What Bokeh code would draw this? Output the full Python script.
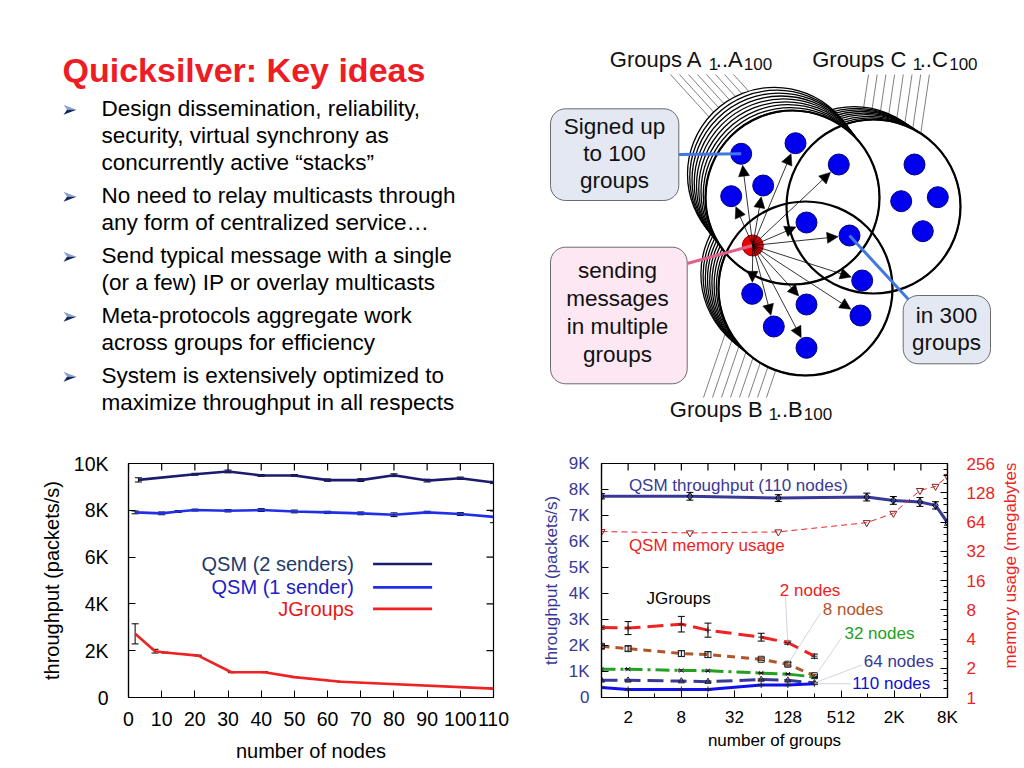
import math
from bokeh.plotting import figure
from bokeh.layouts import column, row
from bokeh.models import (Range1d, LogAxis, LogScale, FixedTicker, Whisker,
                          TeeHead, ColumnDataSource, Label, Arrow, NormalHead)
from bokeh.core.properties import value
from bokeh.embed import file_html
from bokeh.resources import INLINE

FONT = "Liberation Sans"

# ---------------- slide text ----------------
TITLE = "Quicksilver: Key ideas"
BULLETS = [
    ["Design dissemination, reliability,", "security, virtual synchrony as",
     "concurrently active \u201cstacks\u201d"],
    ["No need to relay multicasts through", "any form of centralized service\u2026"],
    ["Send typical message with a single", "(or a few) IP or overlay multicasts"],
    ["Meta-protocols aggregate work", "across groups for efficiency"],
    ["System is extensively optimized  to", "maximize throughput in all respects"],
]
BOX_SIGNED = ["Signed up", "to 100", "groups"]
BOX_SENDING = ["sending", "messages", "in multiple", "groups"]
BOX_300 = ["in 300", "groups"]

# ---------------- left chart data (throughput vs nodes) ----------------
QSM2_NODES = [3, 20, 30, 40, 50, 60, 70, 80, 90, 100, 110]
QSM2_TPUT = [9300, 9540, 9660, 9490, 9490, 9290, 9290, 9500, 9270, 9370, 9190]
QSM2_ERR = [90, 40, 60, 40, 40, 50, 60, 60, 60, 50, 50]
QSM1_NODES = [2, 10, 15, 20, 30, 40, 50, 60, 70, 80, 90, 100, 110]
QSM1_TPUT = [7910, 7870, 7950, 8010, 7980, 8010, 7950, 7910, 7870, 7810, 7910, 7840, 7720]
QSM1_ERR = [60, 60, 40, 40, 50, 60, 60, 50, 60, 80, 50, 60, 250]
JG_NODES = [2, 8, 11, 21, 31, 41, 50, 64, 110]
JG_TPUT = [2720, 1980, 1920, 1790, 1080, 1080, 870, 670, 380]
JG_ERR = [430, 80, 20, 20, 20, 20, 20, 20, 20]
LEFT_X_TICKS = [0, 10, 20, 30, 40, 50, 60, 70, 80, 90, 100, 110]
LEFT_Y_TICKS = [0, 2000, 4000, 6000, 8000, 10000]
LEFT_Y_LABELS = ["0", "2K", "4K", "6K", "8K", "10K"]
LEFT_LEGEND = ["QSM (2 senders)", "QSM (1 sender)", "JGroups"]

# ---------------- right chart data (throughput / memory vs groups) ----------------
QSM_GROUPS = [1, 10, 100, 1000, 2000, 4000, 6000, 8192]
QSM_TPUT = [7740, 7740, 7670, 7710, 7580, 7520, 7390, 6730]
QSM_TPUT_ERR = [100, 150, 130, 150, 150, 170, 140, 100]
QSM_MEM = [51, 49.4, 50.6, 63, 78.6, 135, 149, 188]
JG_GROUPS = [1, 2, 8, 16, 64, 128, 256]
JG2 = [2690, 2670, 2820, 2590, 2320, 2110, 1590]
JG2_ERR = [60, 250, 300, 270, 150, 60, 80]
JG8 = [1970, 1880, 1690, 1650, 1470, 1280, 840]
JG8_ERR = [80, 100, 110, 110, 50, 70, 50]
JG32 = [1090, 1090, 1040, 1030, 940, 900, 790]
JG64 = [660, 660, 630, 610, 690, 660, 560]
JG110 = [380, 310, 310, 310, 480, 480, 530]
RIGHT_X_TICKS = [2, 8, 32, 128, 512, 2048, 8192]
RIGHT_X_LABELS = ["2", "8", "32", "128", "512", "2K", "8K"]
RIGHT_X_MINOR = [1, 4, 16, 64, 256, 1024, 4096]
RIGHT_Y_TICKS = [0, 1000, 2000, 3000, 4000, 5000, 6000, 7000, 8000, 9000]
RIGHT_Y_LABELS = ["0", "1K", "2K", "3K", "4K", "5K", "6K", "7K", "8K", "9K"]
MEM_TICKS = [1, 2, 4, 8, 16, 32, 64, 128, 256]
MEM_TITLE = "memory usage (megabytes)"


# =====================================================================
# top part of the slide (text + diagram), pixel coordinates
# =====================================================================
slide = figure(width=1024, height=440, x_range=Range1d(0, 1024), y_range=Range1d(440, 0),
               toolbar_location=None, output_backend="svg", min_border=0,
               x_axis_location=None, y_axis_location=None)
slide.grid.visible = False
slide.outline_line_color = None


def txt(fig, x, y, s, size, color="black", align="left", bold=False, angle=0):
    fig.text(x=[x], y=[y], text=[s], text_font=value(FONT), text_font_size=size,
             text_color=color, text_align=align, text_baseline="middle", angle=angle,
             text_font_style="bold" if bold else "normal")


txt(slide, 62, 69, TITLE, "34px", color="#ee1c25", bold=True)

yc = 107.8
for para in BULLETS:
    # bullet arrowhead (two halves for the 3D look)
    slide.patch([63, 76, 66.5], [yc - 3.5, yc + 1.5, yc + 1.5], fill_color="#8aa2d2",
                line_color=None)
    slide.patch([66.5, 76, 63], [yc + 1.5, yc + 1.5, yc + 6.5], fill_color="#14285a",
                line_color=None)
    for line in para:
        txt(slide, 101, yc, line, "22.5px")
        yc += 27
    yc += 6

# ---- diagram geometry ----
R = 87
CA, CB, CC = (792, 197), (805, 288), (873, 206)
OFF_A, OFF_B, OFF_C = (-2.25, -2.9), (-2.2, -1.8), (-2.4, -1.6)
NST = 8


def ray_circle(px, py, dx, dy, cx, cy, r):
    n = math.hypot(dx, dy)
    dx, dy = dx / n, dy / n
    fx, fy = px - cx, py - cy
    b = fx * dx + fy * dy
    c = fx * fx + fy * fy - r * r
    t = -b - math.sqrt(max(b * b - c, 0))
    return px + t * dx, py + t * dy


# grey leader lines for each stack
gx0, gy0, gx1, gy1 = [], [], [], []
for i in range(NST):
    k = NST - i
    for (sx, sy, ddx, ddy, cen, off) in [
        (670 + 9 * i, 74, 1, 1.1, CA, OFF_A),
        (868 + 8.7 * i, 74, -0.147, 1, CC, OFF_C),
        (703 + 9 * i, 397, 0.34, -1, CB, OFF_B),
    ]:
        ex, ey = ray_circle(sx, sy, ddx, ddy, cen[0] + k * off[0], cen[1] + k * off[1], R)
        gx0.append(sx); gy0.append(sy); gx1.append(ex); gy1.append(ey)
slide.segment(gx0, gy0, gx1, gy1, line_color="#808080", line_width=1)

# stacked circles (back to front), white filled
sx, sy = [], []
for cen, off in [(CC, OFF_C), (CB, OFF_B), (CA, OFF_A)]:
    for k in range(NST, -1, -1):
        sx.append(cen[0] + k * off[0]); sy.append(cen[1] + k * off[1])
slide.circle(sx, sy, radius=R, fill_color="white", line_color="black", line_width=1.3)
slide.circle([CA[0], CB[0], CC[0]], [CA[1], CB[1], CC[1]], radius=R, fill_color=None,
             line_color="black", line_width=2.2)

# nodes
R_DOT = 10.5
RED = (752.3, 245)
DOTS = [(740.7, 153.3), (795, 142.7), (762.7, 185), (730.7, 195.7), (838.3, 164),
        (914, 164), (900.7, 200.7), (937.3, 196.7), (922.3, 230.7), (806, 222),
        (849, 235), (861.7, 280), (860, 315), (751.7, 293.3), (806, 304),
        (773.3, 326), (806, 347.3)]
ARROW_TO = [0, 1, 2, 3, 4, 9, 10, 11, 12, 13, 14, 15, 16]
ax0, ay0, ax1, ay1 = [], [], [], []
for j in ARROW_TO:
    tx, ty = DOTS[j]
    d = math.hypot(tx - RED[0], ty - RED[1])
    ux, uy = (tx - RED[0]) / d, (ty - RED[1]) / d
    ax0.append(RED[0]); ay0.append(RED[1])
    ax1.append(tx - ux * (R_DOT + 1)); ay1.append(ty - uy * (R_DOT + 1))
slide.add_layout(Arrow(source=ColumnDataSource(dict(x0=ax0, y0=ay0, x1=ax1, y1=ay1)),
                       x_start="x0", y_start="y0", x_end="x1", y_end="y1",
                       line_color="black", line_width=0.8,
                       end=NormalHead(size=11, fill_color="black", line_color="black",
                                      line_width=0.5)))
slide.circle([d[0] for d in DOTS], [d[1] for d in DOTS], radius=R_DOT,
             fill_color="#0000ee", line_color="#000080", line_width=1)
slide.circle([RED[0]], [RED[1]], radius=R_DOT, fill_color="#ee0000",
             line_color="#900000", line_width=1)


def rounded_box(x0, y0, x1, y1, r, n=8):
    xs, ys = [], []
    for cx, cy, a0, a1 in [(x1 - r, y0 + r, -90, 0), (x1 - r, y1 - r, 0, 90),
                           (x0 + r, y1 - r, 90, 180), (x0 + r, y0 + r, 180, 270)]:
        for j in range(n + 1):
            a = math.radians(a0 + (a1 - a0) * j / n)
            xs.append(cx + r * math.cos(a)); ys.append(cy + r * math.sin(a))
    return xs, ys


for (x0, y0, x1, y1, fill) in [(550, 108.3, 678.3, 200, "#e3e8f3"),
                               (550, 246.7, 686.7, 383.3, "#fce7f3"),
                               (902.7, 295, 990, 363.3, "#e3e8f3")]:
    xs, ys = rounded_box(x0, y0, x1, y1, 15)
    slide.patch(xs, ys, fill_color=fill, line_color="#6a6a6a", line_width=1)

# callout pointer lines
slide.segment([678.3, 686.7, DOTS[10][0]], [154, 263, DOTS[10][1]],
              [DOTS[0][0], RED[0], 908], [DOTS[0][1], RED[1], 299],
              line_color=["#3f78e0", "#e0608c", "#3f78e0"], line_width=3)

for s, yy in zip(BOX_SIGNED, [126.1, 153.1, 180.1]):
    txt(slide, 614, yy, s, "22.5px", color="#111111", align="center")
for s, yy in zip(BOX_SENDING, [269.6, 297.6, 325.6, 353.6]):
    txt(slide, 617, yy, s, "22.5px", color="#111111", align="center")
for s, yy in zip(BOX_300, [315.1, 342.1]):
    txt(slide, 946, yy, s, "22.5px", color="#111111", align="center")

# group labels with subscripts: "Groups X", small "1", "..X", small "100"
for letter, x0, cy in [("A", 609.3, 59.3), ("C", 811.7, 59.3), ("B", 669.3, 409.3)]:
    wide = 1.5 if letter == "C" else 0
    txt(slide, x0, cy, "Groups " + letter, "22px", color="#111111")
    txt(slide, x0 + 99 + wide, cy + 4, "1", "17px", color="#111111")
    txt(slide, x0 + 106 + wide, cy, ".." + letter, "22px", color="#111111")
    txt(slide, x0 + 134 + 2 * wide, cy + 4, "100", "17px", color="#111111")


# =====================================================================
# helpers for charts
# =====================================================================
def style_axis(ax, size, color, standoff, tick=7):
    ax.major_tick_in = tick
    ax.major_tick_out = 0
    ax.minor_tick_in = 4
    ax.minor_tick_out = 0
    ax.axis_line_color = "black"
    ax.axis_line_width = 1.2
    ax.major_tick_line_color = "black"
    ax.minor_tick_line_color = "black"
    ax.major_label_text_font = FONT
    ax.major_label_text_font_size = size
    ax.major_label_text_color = color
    ax.major_label_standoff = standoff


def axis_title(ax, text, size, color, standoff):
    ax.axis_label = text
    ax.axis_label_text_font = FONT
    ax.axis_label_text_font_size = size
    ax.axis_label_text_font_style = "normal"
    ax.axis_label_text_color = color
    ax.axis_label_standoff = standoff


def whiskers(fig, xs, ys, errs, **kw):
    src = ColumnDataSource(dict(base=xs, lower=[y - e for y, e in zip(ys, errs)],
                                upper=[y + e for y, e in zip(ys, errs)]))
    fig.add_layout(Whisker(source=src, base="base", lower="lower", upper="upper",
                           line_color="black", line_width=1,
                           upper_head=TeeHead(size=7, line_color="black", line_width=1),
                           lower_head=TeeHead(size=7, line_color="black", line_width=1), **kw))


def lab(fig, x, y, s, size, color="black", align="left"):
    fig.add_layout(Label(x=x, y=y, text=s, text_font=FONT, text_font_size=size,
                         text_color=color, text_align=align, text_baseline="middle"))


def mirror_ticks(fig, xs, ys, vertical, size=14, **kw):
    # tick marks on the opposite frame edges; half of each dash is clipped by the frame
    fig.scatter(xs, ys, marker="dash", size=size, angle=math.pi / 2 if vertical else 0,
                line_color="black", line_width=1.2, **kw)


# =====================================================================
# left chart
# =====================================================================
p1 = figure(width=520, height=328, x_range=Range1d(0, 110), y_range=Range1d(0, 10000),
            toolbar_location=None, output_backend="svg",
            min_border_left=128, min_border_right=27, min_border_top=23, min_border_bottom=71)
p1.grid.visible = False
p1.outline_line_color = "black"
p1.outline_line_width = 1.2
p1.xaxis[0].ticker = FixedTicker(ticks=LEFT_X_TICKS)
p1.yaxis[0].ticker = FixedTicker(ticks=LEFT_Y_TICKS)
p1.yaxis[0].major_label_overrides = dict(zip(LEFT_Y_TICKS, LEFT_Y_LABELS))
style_axis(p1.xaxis[0], "19.5px", "black", 14)
style_axis(p1.yaxis[0], "19.5px", "black", 20)
p1.xaxis[0].minor_tick_line_color = None
p1.yaxis[0].minor_tick_line_color = None
axis_title(p1.xaxis[0], "number of nodes", "20px", "black", 11)
axis_title(p1.yaxis[0], "throughput (packets/s)", "20px", "black", 8)
mirror_ticks(p1, LEFT_X_TICKS, [10000] * len(LEFT_X_TICKS), True)
mirror_ticks(p1, [110] * len(LEFT_Y_TICKS), LEFT_Y_TICKS, False)

C_Q2, C_Q1, C_JG = "#1b1b6e", "#1f2fe6", "#ee2222"
p1.line(QSM2_NODES, QSM2_TPUT, line_color=C_Q2, line_width=2.6)
p1.line(QSM1_NODES, QSM1_TPUT, line_color=C_Q1, line_width=2.6)
p1.line(JG_NODES, JG_TPUT, line_color=C_JG, line_width=2.6)
whiskers(p1, QSM2_NODES, QSM2_TPUT, QSM2_ERR)
whiskers(p1, QSM1_NODES, QSM1_TPUT, QSM1_ERR)
whiskers(p1, JG_NODES, JG_TPUT, JG_ERR)

# legend (text first, sample line after, gnuplot style)
LEG_Y = [5706, 4708, 3786]
LEG_TXT_COL = ["#1f3a6b", "#1c1cc8", "#e81818"]
for s, yy, tc in zip(LEFT_LEGEND, LEG_Y, LEG_TXT_COL):
    lab(p1, 67.9, yy, s, "20px", color=tc, align="right")
p1.segment([73.7] * 3, LEG_Y, [91.5] * 3, LEG_Y, line_color=[C_Q2, C_Q1, C_JG], line_width=2.6)

# =====================================================================
# right chart
# =====================================================================
p2 = figure(width=480, height=328, x_axis_type="log", x_range=Range1d(1, 8192),
            y_range=Range1d(0, 9000), toolbar_location=None, output_backend="svg",
            min_border_left=81, min_border_right=53, min_border_top=19, min_border_bottom=70)
p2.grid.visible = False
p2.outline_line_color = "black"
p2.outline_line_width = 1.2
p2.extra_y_ranges = {"mem": Range1d(1, 256)}
p2.extra_y_scales = {"mem": LogScale()}
NAVY = "#383896"
REDC = "#ee2222"
p2.xaxis[0].ticker = FixedTicker(ticks=RIGHT_X_TICKS, minor_ticks=RIGHT_X_MINOR)
p2.xaxis[0].major_label_overrides = dict(zip(RIGHT_X_TICKS, RIGHT_X_LABELS))
p2.yaxis[0].ticker = FixedTicker(ticks=RIGHT_Y_TICKS)
p2.yaxis[0].major_label_overrides = dict(zip(RIGHT_Y_TICKS, RIGHT_Y_LABELS))
style_axis(p2.xaxis[0], "17px", "black", 10)
style_axis(p2.yaxis[0], "17px", NAVY, 12)
p2.yaxis[0].minor_tick_line_color = None
axis_title(p2.xaxis[0], "number of groups", "17px", "black", 1)
axis_title(p2.yaxis[0], "throughput (packets/s)", "17px", NAVY, 5)
mem_minor = [b * m for b in MEM_TICKS[:-1] for m in (1.25, 1.5, 1.75)]
ra = LogAxis(y_range_name="mem", ticker=FixedTicker(ticks=MEM_TICKS, minor_ticks=mem_minor))
ra.major_label_overrides = {t: str(t) for t in MEM_TICKS}
style_axis(ra, "17px", REDC, 19)
p2.add_layout(ra, "right")
top_ticks = sorted(RIGHT_X_TICKS + RIGHT_X_MINOR)
mirror_ticks(p2, top_ticks, [9000] * len(top_ticks), True)

# QSM
p2.line(QSM_GROUPS, QSM_TPUT, line_color=NAVY, line_width=3)
whiskers(p2, QSM_GROUPS, QSM_TPUT, QSM_TPUT_ERR)
p2.scatter(QSM_GROUPS, QSM_TPUT, marker="diamond", size=8, fill_color=None, line_color="black")
p2.line(QSM_GROUPS, QSM_MEM, y_range_name="mem", line_color=REDC, line_width=1,
        line_dash="6 4")
p2.scatter(QSM_GROUPS, QSM_MEM, y_range_name="mem", marker="inverted_triangle", size=7,
           fill_color=None, line_color="#802020")

# JGroups
series = [(JG2, REDC, "16 7", JG2_ERR, "cross"),
          (JG8, "#b0562a", "8 6", JG8_ERR, "square"),
          (JG32, "#22a022", "14 5 3 5", [25] * 7, "x"),
          (JG64, NAVY, "16 7", [25] * 7, "triangle"),
          (JG110, "#1010ee", None, [25] * 7, "cross")]
for ys, col, dash, err, mk in series:
    if dash:
        p2.line(JG_GROUPS, ys, line_color=col, line_width=3, line_dash=dash)
    else:
        p2.line(JG_GROUPS, ys, line_color=col, line_width=3)
    whiskers(p2, JG_GROUPS, ys, err)
    p2.scatter(JG_GROUPS, ys, marker=mk, size=6, fill_color=None, line_color="#222222")

# faint leader lines from labels to the series
LEAD_START = [(120, 3950), (300, 3250), (520, 2300), (880, 1250), (660, 530)]
LEAD_END = [(128, JG2[5]), (128, JG8[5]), (256, JG32[6]), (256, JG64[6]), (256, JG110[6])]
p2.segment([s[0] for s in LEAD_START], [s[1] for s in LEAD_START],
           [e[0] for e in LEAD_END], [e[1] for e in LEAD_END],
           line_color="#c8c8d8", line_width=0.8)

lab(p2, 2.04, 8146, "QSM throughput (110 nodes)", "17px", color=NAVY)
lab(p2, 2.04, 5830, "QSM memory usage", "17px", color=REDC)
lab(p2, 3.23, 3821, "JGroups", "17px", color="black")
lab(p2, 104, 4099, "2 nodes", "17px", color=REDC)
lab(p2, 318, 3385, "8 nodes", "17px", color="#b0562a")
lab(p2, 560, 2445, "32 nodes", "17px", color="#22a022")
lab(p2, 925, 1377, "64 nodes", "17px", color=NAVY)
lab(p2, 684, 527, "110 nodes", "17px", color="#1010cc")

# narrow strip holding the right-hand axis title (reads bottom to top)
side = figure(width=24, height=328, x_range=Range1d(0, 24), y_range=Range1d(0, 328),
              toolbar_location=None, output_backend="svg", min_border=0,
              x_axis_location=None, y_axis_location=None)
side.grid.visible = False
side.outline_line_color = None
txt(side, 10, 189, MEM_TITLE, "17px", color=REDC, align="center", angle=math.pi / 2)

layout = column(slide, row(p1, p2, side))
open("out.html", "w").write(file_html(layout, INLINE))
